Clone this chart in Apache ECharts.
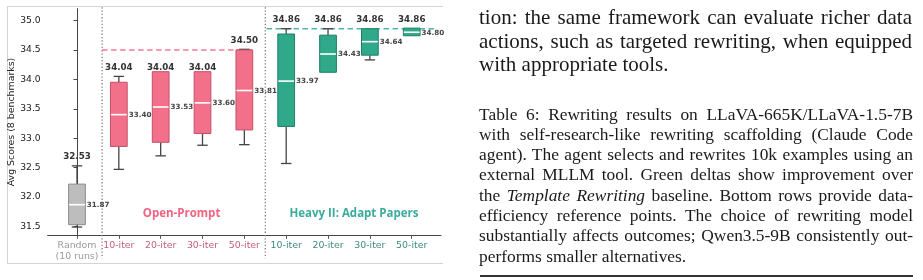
<!DOCTYPE html>
<html><head><meta charset="utf-8">
<script src="https://cdn.jsdelivr.net/npm/echarts@6/dist/echarts.min.js"></script>
<style>
html,body{margin:0;padding:0;background:#fff;}
#wrap{position:relative;width:923px;height:280px;overflow:hidden;background:#fff;}
#chart{position:absolute;left:0;top:0;width:923px;height:280px;}
.txt{position:absolute;font-family:"Liberation Serif","Times New Roman",serif;color:#1a1a1a;}
.j{text-align:justify;text-align-last:justify;}
.l{text-align:left;}
#rule{position:absolute;left:480px;top:275px;width:433px;height:2px;background:#333;}
</style></head><body>
<div id="wrap">
<div id="chart"></div>
<div class="txt" style="left:479px;top:6px;width:433px;font-size:21px;line-height:23.5px;">
<div class="j">tion: the same framework can evaluate richer data</div>
<div class="j">actions, such as targeted rewriting, when equipped</div>
<div class="l">with appropriate tools.</div>
</div>
<div class="txt" style="left:479px;top:103.5px;width:434px;font-size:17.4px;line-height:20.3px;">
<div class="j">Table 6: Rewriting results on LLaVA-665K/LLaVA-1.5-7B</div>
<div class="j">with self-research-like rewriting scaffolding (Claude Code</div>
<div class="j">agent). The agent selects and rewrites 10k examples using an</div>
<div class="j">external MLLM tool. Green deltas show improvement over</div>
<div class="j">the <i>Template Rewriting</i> baseline. Bottom rows provide data-</div>
<div class="j">efficiency reference points. The choice of rewriting model</div>
<div class="j">substantially affects outcomes; Qwen3.5-9B consistently out-</div>
<div class="l">performs smaller alternatives.</div>
</div>
<div id="rule"></div>
</div>
<script>
// ---------------- data ----------------
const categories = ['Random\n(10 runs)', '10-iter', '20-iter', '30-iter', '50-iter', '10-iter', '20-iter', '30-iter', '50-iter'];
const groups = ['random', 'open', 'open', 'open', 'open', 'heavy', 'heavy', 'heavy', 'heavy'];
const whiskerLow  = [31.49, 32.47, 32.70, 32.88, 32.89, 32.57, 34.12, 34.33, 34.74];
const q1          = [31.53, 32.86, 32.93, 33.08, 33.14, 33.20, 34.12, 34.41, 34.74];
const medians     = [31.87, 33.40, 33.53, 33.60, 33.81, 33.97, 34.43, 34.64, 34.80];
const q3          = [32.22, 33.95, 34.13, 34.13, 34.50, 34.77, 34.75, 34.86, 34.87];
const whiskerHigh = [32.53, 34.05, 34.13, 34.13, 34.51, 34.86, 34.86, 34.86, 34.87];
const bestScores  = [32.53, 34.04, 34.04, 34.04, 34.50, 34.86, 34.86, 34.86, 34.86];
const yTicks = [31.5, 32.0, 32.5, 33.0, 33.5, 34.0, 34.5, 35.0];
const groupNames = ['Open-Prompt', 'Heavy II: Adapt Papers'];
const groupKeys = ['open', 'heavy'];
const bestLineValues = [34.50, 34.86];
const dividers = [0.6, 4.5];

// ---------------- styles ----------------
const style = {
  random: {fill: '#bdbdbd', edge: '#8c8c8c', tick: '#9a9a9a'},
  open:   {fill: '#f27089', edge: '#c4506a', tick: '#c2607a', title: '#f06482', dash: 'rgba(242,96,124,0.85)'},
  heavy:  {fill: '#30a98a', edge: '#1f7f66', tick: '#3c8a7e', title: '#3aab9c', dash: 'rgba(50,170,150,0.85)'}
};
const X_MIN = -0.7, X_MAX = 8.7, Y_MIN = 31.35, Y_MAX = 35.2;
const refFrom = [0.6, 4.53], refTo = [4.25, 8.6];
const groupLabelX = [2.5, 6.62], groupLabelY = 31.71;

const boxData = categories.map((c, i) => [i, whiskerLow[i], q1[i], medians[i], q3[i], whiskerHigh[i], bestScores[i]]);

function renderBox(params, api) {
  const i = api.value(0);
  const lo = api.value(1), a = api.value(2), med = api.value(3), b = api.value(4), hi = api.value(5), best = api.value(6);
  const st = style[groups[params.dataIndex]];
  const w = api.size([0.4, 0])[0];
  const cw = api.size([0.25, 0])[0];
  const pm = api.coord([i, med]);
  const x = pm[0];
  const yLo = api.coord([i, lo])[1], yA = api.coord([i, a])[1], yB = api.coord([i, b])[1], yHi = api.coord([i, hi])[1];
  const yBest = api.coord([i, best])[1];
  const wk = {stroke: '#444', lineWidth: 1.3};
  const ch = [];
  if (hi > b) {
    ch.push({type: 'line', shape: {x1: x, y1: yB, x2: x, y2: yHi}, style: wk});
    ch.push({type: 'line', shape: {x1: x - cw / 2, y1: yHi, x2: x + cw / 2, y2: yHi}, style: wk});
  }
  if (lo < a) {
    ch.push({type: 'line', shape: {x1: x, y1: yA, x2: x, y2: yLo}, style: wk});
    ch.push({type: 'line', shape: {x1: x - cw / 2, y1: yLo, x2: x + cw / 2, y2: yLo}, style: wk});
  }
  ch.push({type: 'rect', shape: {x: x - w / 2, y: yB, width: w, height: yA - yB},
    style: {fill: st.fill, stroke: st.edge, lineWidth: 1}});
  ch.push({type: 'line', shape: {x1: x - w / 2 + 0.5, y1: pm[1], x2: x + w / 2 - 0.5, y2: pm[1]},
    style: {stroke: '#ffffff', lineWidth: 1.6}});
  ch.push({type: 'text', style: {text: med.toFixed(2), x: x + w / 2 + 1.5, y: pm[1] + 0.5,
    fill: '#444', fontSize: 7.2, fontWeight: 'bold', fontFamily: 'DejaVu Sans', align: 'left', verticalAlign: 'middle'}});
  ch.push({type: 'text', style: {text: best.toFixed(2), x: x, y: yBest - 8.9,
    fill: '#333', fontSize: 8.7, fontWeight: 'bold', fontFamily: 'DejaVu Sans', align: 'center', verticalAlign: 'middle'}});
  return {type: 'group', children: ch};
}

function renderDivider(params, api) {
  const xv = api.value(0);
  const top = api.coord([xv, Y_MAX]);
  const bot = api.coord([xv, Y_MIN]);
  return {type: 'line', shape: {x1: top[0], y1: top[1] - 1.5, x2: top[0], y2: bot[1] + 23},
    style: {stroke: '#777', lineWidth: 1.2, lineDash: [1.3, 2]}};
}

function renderRef(params, api) {
  const k = params.dataIndex;
  const p1 = api.coord([refFrom[k], api.value(0)]);
  const p2 = api.coord([refTo[k], api.value(0)]);
  return {type: 'line', shape: {x1: p1[0], y1: p1[1], x2: p2[0], y2: p2[1]},
    style: {stroke: style[groupKeys[k]].dash, lineWidth: 1.5, lineDash: [5.5, 3.5]}};
}

function renderGroupLabel(params, api) {
  const k = params.dataIndex;
  const p = api.coord([groupLabelX[k], groupLabelY]);
  return {type: 'text', style: {text: groupNames[k], x: p[0], y: p[1], fill: style[groupKeys[k]].title,
    fontSize: 11.5, fontWeight: 'bold', fontFamily: 'Open Sans', align: 'center', verticalAlign: 'middle'}};
}

const chart = echarts.init(document.getElementById('chart'), null, {renderer: 'canvas'});
chart.setOption({
  animation: false,
  backgroundColor: 'transparent',
  grid: {left: 47.7, top: 8.7, width: 393.3, height: 226.6, containLabel: false},
  xAxis: {
    type: 'value', min: X_MIN, max: X_MAX,
    splitLine: {show: false},
    axisLine: {show: true, onZero: false, lineStyle: {color: '#444', width: 1}},
    axisTick: {show: true, length: 3.5, lineStyle: {color: '#555'}, customValues: categories.map((c, i) => i)},
    axisLabel: {
      customValues: categories.map((c, i) => i),
      formatter: v => categories[Math.round(v)],
      color: (v) => style[groups[Math.round(v)]].tick,
      fontFamily: 'DejaVu Sans', fontSize: 9.4, lineHeight: 11, margin: 5
    }
  },
  yAxis: {
    type: 'value', min: Y_MIN, max: Y_MAX,
    name: 'Avg Scores (8 benchmarks)', nameLocation: 'middle', nameGap: 30,
    nameTextStyle: {fontFamily: 'DejaVu Sans', fontSize: 9.4, color: '#222'},
    splitLine: {show: false},
    axisLine: {show: true, lineStyle: {color: '#444', width: 1}},
    axisTick: {show: true, length: 3.5, lineStyle: {color: '#444'}, customValues: yTicks},
    axisLabel: {customValues: yTicks, formatter: v => v.toFixed(1), color: '#222',
      fontFamily: 'DejaVu Sans', fontSize: 9.2, margin: 7}
  },
  graphic: [
    {type: 'polyline', shape: {points: [[443, 6.5], [7.5, 6.5], [7.5, 263.5], [443, 263.5]]},
      style: {stroke: '#d4d4d4', lineWidth: 1, fill: null}, z: 0}
  ],
  series: [
    {type: 'custom', name: 'dividers', data: dividers.map(d => [d]), encode: {x: 0}, renderItem: renderDivider, clip: false, z: 1},
    {type: 'custom', name: 'best', data: bestLineValues.map(v => [v]), encode: {y: 0}, renderItem: renderRef, z: 2},
    {type: 'custom', name: 'boxes', data: boxData, encode: {x: 0, y: [1, 2, 3, 4, 5]}, renderItem: renderBox, z: 3},
    {type: 'custom', name: 'groups', data: groupNames.map((g, k) => [k]), renderItem: renderGroupLabel, z: 4}
  ]
});
</script>
</body></html>
